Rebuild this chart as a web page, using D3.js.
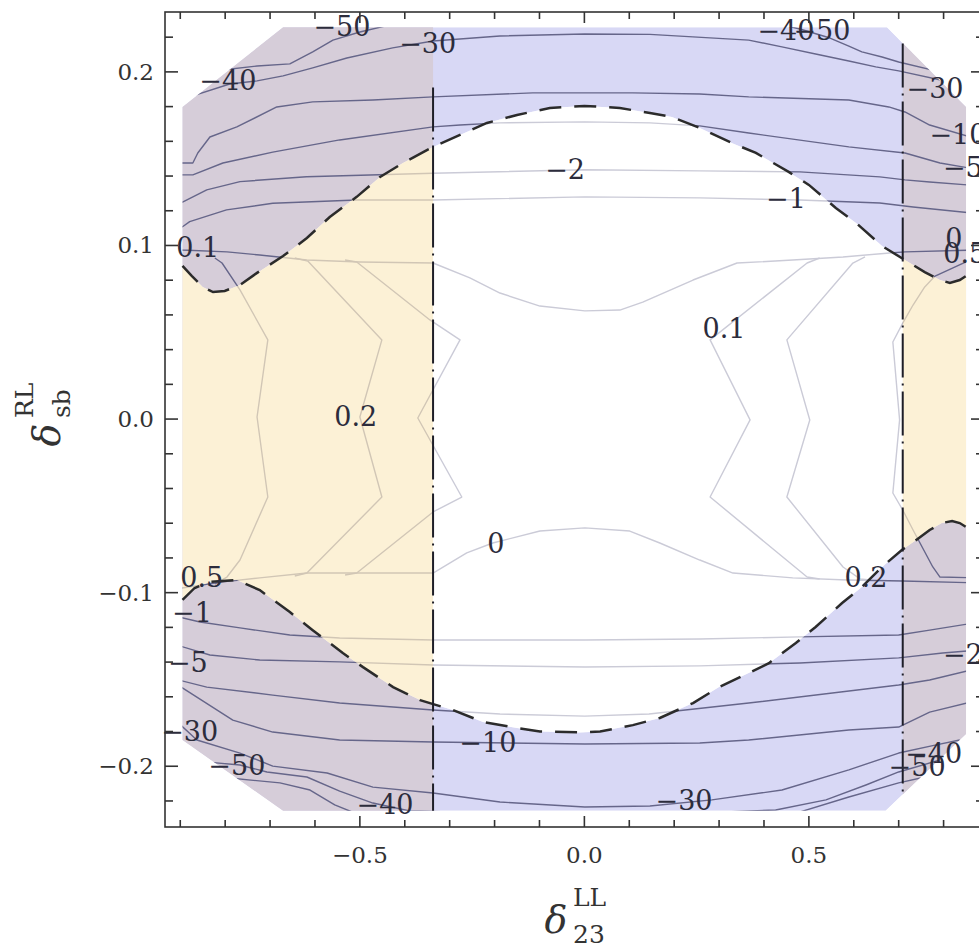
<!DOCTYPE html>
<html><head><meta charset="utf-8">
<script src="https://cdn.jsdelivr.net/npm/d3@7"></script>
<style>html,body{margin:0;padding:0;background:#fff;overflow:hidden}</style>
</head><body>
<svg id="c" width="979" height="952"></svg>
<script>
// ---------- data ----------
const xDomain = [-0.934, 0.89];
const yDomain = [-0.235, 0.2345];
const xMajorTicks = [-0.5, 0, 0.5];
const xTickLabels = ["\u22120.5", "0.0", "0.5"];
const xMinorTicks = [-0.9,-0.8,-0.7,-0.6,-0.5,-0.4,-0.3,-0.2,-0.1,0,0.1,0.2,0.3,0.4,0.5,0.6,0.7,0.8];
const yMajorTicks = [-0.2, -0.1, 0, 0.1, 0.2];
const yTickLabels = ["\u22120.2", "\u22120.1", "0.0", "0.1", "0.2"];
const yMinorTicks = [-0.22,-0.2,-0.18,-0.16,-0.14,-0.12,-0.1,-0.08,-0.06,-0.04,-0.02,0,0.02,0.04,0.06,0.08,0.1,0.12,0.14,0.16,0.18,0.2,0.22];

// region where the scan was computed
const domainOutline = [[-0.895,0.1798],[-0.671,0.2257],[0.674,0.2257],[0.850,0.1798],[0.850,-0.1814],[0.671,-0.2256],[-0.671,-0.2256],[-0.895,-0.1849]];
// dashed boundaries (upper and lower)
const boundaryTop = [[-0.895,0.0882],[-0.874,0.0824],[-0.850,0.0761],[-0.827,0.0732],[-0.801,0.0738],[-0.767,0.0772],[-0.729,0.0842],[-0.671,0.0939],[-0.618,0.1043],[-0.567,0.1164],[-0.507,0.1280],[-0.455,0.1395],[-0.404,0.1475],[-0.337,0.1568],[-0.277,0.1637],[-0.217,0.1706],[-0.150,0.1752],[-0.077,0.1792],[0.000,0.1804],[0.079,0.1792],[0.146,0.1763],[0.195,0.1740],[0.257,0.1677],[0.328,0.1591],[0.382,0.1533],[0.455,0.1424],[0.500,0.1349],[0.560,0.1216],[0.605,0.1130],[0.663,0.0997],[0.714,0.0916],[0.758,0.0847],[0.792,0.0801],[0.814,0.0784],[0.836,0.0801],[0.850,0.0824]];
const boundaryBottom = [[-0.895,-0.1042],[-0.868,-0.0973],[-0.834,-0.0938],[-0.774,-0.0927],[-0.723,-0.0985],[-0.656,-0.1112],[-0.605,-0.1216],[-0.538,-0.1348],[-0.493,-0.1429],[-0.426,-0.1544],[-0.366,-0.1619],[-0.293,-0.1676],[-0.226,-0.1745],[-0.150,-0.1780],[-0.099,-0.1800],[-0.010,-0.1805],[0.035,-0.1800],[0.108,-0.1763],[0.168,-0.1722],[0.242,-0.1636],[0.300,-0.1544],[0.366,-0.1463],[0.411,-0.1406],[0.471,-0.1290],[0.515,-0.1198],[0.574,-0.1060],[0.618,-0.0967],[0.663,-0.0852],[0.707,-0.0754],[0.736,-0.0703],[0.769,-0.0639],[0.796,-0.0599],[0.819,-0.0587],[0.836,-0.0599],[0.850,-0.0622]];
// dash-dotted vertical bounds
const verticalBounds = [[-0.337, 0.191, -0.2256], [0.709, 0.2164, -0.2163]];
// bands outside the vertical bounds
const yellowBands = [[-1.0, -0.337], [0.709, 1.0]];

// contour lines
const lineTopM50L = [[-0.807,0.2011],[-0.729,0.2034],[-0.656,0.2046],[-0.605,0.2115],[-0.560,0.2183],[-0.500,0.2230],[-0.444,0.2264],[-0.411,0.2287]];
const lineTopM50R = [[0.413,0.2287],[0.480,0.2247],[0.547,0.2195],[0.589,0.2149],[0.618,0.2115],[0.663,0.2086],[0.700,0.2057],[0.792,0.2000]];
const lineTopM40 = [[-0.879,0.1856],[-0.790,0.1930],[-0.729,0.1948],[-0.671,0.1977],[-0.605,0.2023],[-0.529,0.2080],[-0.427,0.2138],[-0.337,0.2178],[-0.188,0.2207],[0.001,0.2218],[0.146,0.2216],[0.366,0.2183],[0.440,0.2144],[0.515,0.2103],[0.589,0.2063],[0.649,0.2029],[0.700,0.2006],[0.814,0.1942]];
const lineTopA = [[-0.923,0.1475],[-0.872,0.1475],[-0.861,0.1533],[-0.834,0.1625],[-0.774,0.1683],[-0.685,0.1798],[-0.605,0.1827],[-0.471,0.1838],[-0.337,0.1856],[-0.115,0.1879],[0.108,0.1879],[0.257,0.1873],[0.366,0.1856],[0.589,0.1838],[0.678,0.1798],[0.714,0.1769],[0.769,0.1694],[0.881,0.1608]];
const lineTopB = [[-0.923,0.1407],[-0.872,0.1407],[-0.805,0.1475],[-0.694,0.1538],[-0.545,0.1608],[-0.337,0.1683],[-0.277,0.1694],[-0.188,0.1706],[0.001,0.1712],[0.146,0.1706],[0.257,0.1689],[0.366,0.1648],[0.589,0.1568],[0.714,0.1533],[0.792,0.1475],[0.881,0.1436]];
const lineTopC = [[-0.923,0.1250],[-0.895,0.1250],[-0.841,0.1320],[-0.767,0.1368],[-0.619,0.1396],[-0.337,0.1416],[0.001,0.1436],[0.257,0.1430],[0.480,0.1424],[0.658,0.1395],[0.714,0.1378],[0.769,0.1366],[0.881,0.1343]];
const lineTopD = [[-0.923,0.1108],[-0.895,0.1108],[-0.879,0.1137],[-0.797,0.1205],[-0.694,0.1243],[-0.507,0.1262],[-0.337,0.1262],[0.001,0.1280],[0.257,0.1274],[0.480,0.1262],[0.658,0.1245],[0.732,0.1222],[0.881,0.1182]];
const lineInnerTop = [[-0.923,0.0980],[-0.896,0.0974],[-0.796,0.0963],[-0.723,0.0945],[-0.618,0.0916],[-0.500,0.0905],[-0.337,0.0899],[-0.255,0.0813],[-0.188,0.0726],[-0.099,0.0651],[0.001,0.0623],[0.079,0.0628],[0.130,0.0674],[0.242,0.0801],[0.340,0.0899],[0.464,0.0916],[0.576,0.0934],[0.680,0.0957],[0.714,0.0963],[0.881,0.0974]];
const lineInnerBottom = [[-0.923,-0.0979],[-0.896,-0.0973],[-0.805,-0.0938],[-0.723,-0.0915],[-0.618,-0.0887],[-0.500,-0.0887],[-0.337,-0.0887],[-0.262,-0.0771],[-0.204,-0.0714],[-0.099,-0.0645],[0.001,-0.0627],[0.101,-0.0645],[0.168,-0.0714],[0.257,-0.0812],[0.331,-0.0887],[0.464,-0.0915],[0.585,-0.0927],[0.709,-0.0933],[0.881,-0.0944]];
const zigL1 = [[-0.823,0.0928],[-0.807,0.0899],[-0.767,0.0744],[-0.705,0.0456],[-0.729,0.0012],[-0.705,-0.0449],[-0.767,-0.0812],[-0.796,-0.0910],[-0.823,-0.0950]];
const zigL2 = [[-0.645,0.0928],[-0.616,0.0910],[-0.451,0.0456],[-0.500,0.0012],[-0.451,-0.0449],[-0.618,-0.0887],[-0.645,-0.0904]];
const zigL3 = [[-0.533,0.0916],[-0.507,0.0905],[-0.344,0.0571],[-0.277,0.0456],[-0.371,0.0006],[-0.273,-0.0449],[-0.337,-0.0535],[-0.507,-0.0887],[-0.533,-0.0898]];
const zigR1 = [[0.524,0.0928],[0.496,0.0899],[0.280,0.0456],[0.369,-0.0005],[0.280,-0.0449],[0.496,-0.0910],[0.524,-0.0921]];
const zigR2 = [[0.625,0.0934],[0.598,0.0899],[0.451,0.0456],[0.502,-0.0005],[0.451,-0.0449],[0.576,-0.0852],[0.614,-0.0921],[0.636,-0.0927]];
const zigR3 = [[0.881,0.0928],[0.850,0.0905],[0.781,0.0824],[0.758,0.0761],[0.732,0.0657],[0.709,0.0553],[0.687,0.0444],[0.702,-0.0005],[0.687,-0.0426],[0.709,-0.0524],[0.732,-0.0639],[0.776,-0.0852],[0.792,-0.0910],[0.881,-0.0915]];
const lineBotD = [[-0.923,-0.1129],[-0.856,-0.1169],[-0.767,-0.1203],[-0.656,-0.1244],[-0.545,-0.1261],[-0.337,-0.1273],[0.001,-0.1273],[0.257,-0.1267],[0.480,-0.1255],[0.700,-0.1244],[0.769,-0.1216],[0.881,-0.1169]];
const lineBotC = [[-0.923,-0.1290],[-0.834,-0.1359],[-0.723,-0.1388],[-0.545,-0.1399],[-0.337,-0.1417],[0.001,-0.1428],[0.257,-0.1422],[0.480,-0.1405],[0.700,-0.1376],[0.798,-0.1348],[0.881,-0.1330]];
const lineBotB = [[-0.923,-0.1491],[-0.841,-0.1544],[-0.694,-0.1590],[-0.545,-0.1636],[-0.337,-0.1676],[-0.188,-0.1699],[0.001,-0.1711],[0.144,-0.1699],[0.366,-0.1636],[0.700,-0.1532],[0.769,-0.1503],[0.881,-0.1434]];
const lineBotA = [[-0.923,-0.1503],[-0.783,-0.1734],[-0.694,-0.1803],[-0.545,-0.1849],[-0.337,-0.1860],[0.001,-0.1872],[0.257,-0.1866],[0.366,-0.1849],[0.589,-0.1791],[0.700,-0.1774],[0.769,-0.1688],[0.881,-0.1618]];
const lineBotM30 = [[-0.923,-0.1705],[-0.863,-0.1849],[-0.767,-0.1924],[-0.694,-0.1999],[-0.573,-0.2039],[-0.471,-0.2120],[-0.337,-0.2154],[-0.188,-0.2206],[0.001,-0.2235],[0.146,-0.2229],[0.284,-0.2194],[0.440,-0.2137],[0.589,-0.2021],[0.700,-0.1924],[0.781,-0.1878],[0.836,-0.1849]];
const lineBotM40 = [[-0.845,-0.1975],[-0.767,-0.1993],[-0.707,-0.2033],[-0.618,-0.2062],[-0.545,-0.2143],[-0.471,-0.2212],[-0.389,-0.2258],[-0.188,-0.2269],[0.257,-0.2269],[0.426,-0.2252],[0.538,-0.2194],[0.627,-0.2108],[0.700,-0.2033],[0.792,-0.1964]];
const lineBotM50 = [[-0.790,-0.2068],[-0.678,-0.2096],[-0.611,-0.2137],[-0.556,-0.2223],[-0.500,-0.2281],[0.458,-0.2281],[0.589,-0.2177],[0.700,-0.2096],[0.769,-0.2056]];
const contourLines = [lineTopM50L, lineTopM50R, lineTopM40, lineTopA, lineTopB, lineTopC, lineTopD,
  lineInnerTop, lineInnerBottom, zigL1, zigL2, zigL3, zigR1, zigR2, zigR3,
  lineBotD, lineBotC, lineBotB, lineBotA, lineBotM30, lineBotM40, lineBotM50];

// contour labels: text, x, y
const labelTexts = ["\u221250","\u221240","\u221230","\u221240","\u221250","\u221230","\u221210","\u22125","0","0.5",
  "\u22122","\u22121","0.1","0.1","0.2","0","0.2","0.5","\u22121","\u22125","\u221230","\u221250","\u221240","\u221210","\u221230","\u221250","\u221240","\u22122"];
const labelX = [-0.540,-0.794,-0.349,0.449,0.529,0.781,0.832,0.843,0.823,0.847,
  -0.043,0.449,-0.861,0.311,-0.509,-0.197,0.627,-0.852,-0.874,-0.883,-0.879,-0.774,-0.444,-0.215,0.222,0.741,0.778,0.843];
const labelY = [0.2259,0.1953,0.2166,0.2241,0.2241,0.1902,0.1637,0.1452,0.1043,0.0951,
  0.1436,0.1268,0.0986,0.0519,0.0012,-0.0714,-0.0910,-0.0910,-0.1117,-0.1405,-0.1797,-0.1993,-0.2223,-0.1866,-0.2200,-0.2004,-0.1929,-0.1359];

// ---------- drawing ----------
const colBlue = "#d8d8f5", colOverlap = "#d6cdd9", colYellowTint = "#fbebc6", colLine = "#66668a";
const x = d3.scaleLinear().domain(xDomain).range([165, 984]);
const y = d3.scaleLinear().domain(yDomain).range([827, 12]);
const svg = d3.select("#c");
const defs = svg.append("defs");
const line = d3.line().x(d => x(d[0])).y(d => y(d[1]));

const nT = boundaryTop.length, nB = boundaryBottom.length;
const innerPoly = [[-1.0, boundaryTop[0][1]], ...boundaryTop, [1.0, boundaryTop[nT-1][1]],
  [1.0, boundaryBottom[nB-1][1]], ...boundaryBottom.slice().reverse(), [-1.0, boundaryBottom[0][1]]];

defs.append("clipPath").attr("id", "dom").append("path").attr("d", line(domainOutline) + "Z");
defs.append("clipPath").attr("id", "inner").append("path").attr("d", line(innerPoly) + "Z");

const g = svg.append("g").attr("clip-path", "url(#dom)");
g.append("path").attr("d", line(domainOutline) + "Z").attr("fill", colBlue);
yellowBands.forEach(b => {
  g.append("rect").attr("x", x(b[0])).attr("width", x(b[1]) - x(b[0]))
    .attr("y", y(yDomain[1])).attr("height", y(yDomain[0]) - y(yDomain[1])).attr("fill", colOverlap);
});
g.append("path").attr("d", line(innerPoly) + "Z").attr("fill", "#fff");
contourLines.forEach(l => {
  g.append("path").attr("d", line(l)).attr("fill", "none").attr("stroke", colLine)
    .attr("stroke-width", 1.4).attr("stroke-linejoin", "round");
});
const gi = g.append("g").attr("clip-path", "url(#inner)");
gi.append("rect").attr("x", x(yellowBands[0][1])).attr("width", x(yellowBands[1][0]) - x(yellowBands[0][1]))
  .attr("y", y(yDomain[1])).attr("height", y(yDomain[0]) - y(yDomain[1])).attr("fill", "#fff").attr("opacity", 0.66);
yellowBands.forEach(b => {
  gi.append("rect").attr("x", x(b[0])).attr("width", x(b[1]) - x(b[0]))
    .attr("y", y(yDomain[1])).attr("height", y(yDomain[0]) - y(yDomain[1])).attr("fill", colYellowTint).attr("opacity", 0.72);
});

// dashed boundaries
[boundaryTop, boundaryBottom].forEach(b => {
  svg.append("path").attr("d", line(b)).attr("fill", "none").attr("stroke", "#2b2b2b")
    .attr("stroke-width", 2.5).attr("stroke-dasharray", "22,13");
});
// dash-dot verticals
verticalBounds.forEach(v => {
  svg.append("line").attr("x1", x(v[0])).attr("x2", x(v[0])).attr("y1", y(v[1])).attr("y2", y(v[2]))
    .attr("stroke", "#1e1e28").attr("stroke-width", 2).attr("stroke-dasharray", "44,6,2,6");
});

// labels
labelTexts.forEach((t, i) => {
  svg.append("text").attr("x", x(labelX[i])).attr("y", y(labelY[i]))
    .attr("text-anchor", "middle").attr("dominant-baseline", "central")
    .attr("font-family", "DejaVu Serif").attr("font-size", 27).attr("fill", "#2c2c3c").text(t);
});

// frame and ticks
const fr = svg.append("g").attr("stroke", "#333").attr("stroke-width", 1.6);
fr.append("rect").attr("x", x(xDomain[0])).attr("y", y(yDomain[1]))
  .attr("width", x(xDomain[1]) - x(xDomain[0])).attr("height", y(yDomain[0]) - y(yDomain[1])).attr("fill", "none");
const isMajor = (v, arr) => arr.some(m => Math.abs(m - v) < 1e-9);
xMinorTicks.forEach(v => {
  const L = isMajor(v, xMajorTicks) ? 11 : 7;
  fr.append("line").attr("x1", x(v)).attr("x2", x(v)).attr("y1", y(yDomain[0])).attr("y2", y(yDomain[0]) - L);
  fr.append("line").attr("x1", x(v)).attr("x2", x(v)).attr("y1", y(yDomain[1])).attr("y2", y(yDomain[1]) + L);
});
yMinorTicks.forEach(v => {
  const L = isMajor(v, yMajorTicks) ? 13 : 8;
  fr.append("line").attr("y1", y(v)).attr("y2", y(v)).attr("x1", x(xDomain[0])).attr("x2", x(xDomain[0]) + L);
  fr.append("line").attr("y1", y(v)).attr("y2", y(v)).attr("x1", x(xDomain[1])).attr("x2", x(xDomain[1]) - L);
});
xMajorTicks.forEach((v, i) => {
  svg.append("text").attr("x", x(v)).attr("y", y(yDomain[0]) + 36).attr("text-anchor", "middle")
    .attr("font-family", "DejaVu Serif").attr("font-size", 23).attr("fill", "#333").text(xTickLabels[i]);
});
yMajorTicks.forEach((v, i) => {
  svg.append("text").attr("x", x(xDomain[0]) - 11).attr("y", y(v)).attr("text-anchor", "end")
    .attr("dominant-baseline", "central")
    .attr("font-family", "DejaVu Serif").attr("font-size", 23).attr("fill", "#333").text(yTickLabels[i]);
});

// axis titles
function axisTitle(gSel, sup, sub) {
  gSel.append("text").attr("x", 0).attr("y", 0).attr("text-anchor", "middle")
    .attr("font-family", "DejaVu Serif").attr("font-style", "italic").attr("font-size", 38).attr("fill", "#333").text("\u03b4");
  gSel.append("text").attr("x", 17).attr("y", -27).attr("font-family", "DejaVu Serif")
    .attr("font-size", 25).attr("fill", "#333").text(sup);
  gSel.append("text").attr("x", 17).attr("y", 10).attr("font-family", "DejaVu Serif")
    .attr("font-size", 25).attr("fill", "#333").text(sub);
}
axisTitle(svg.append("g").attr("transform", "translate(556,933)"), "LL", "23");
axisTitle(svg.append("g").attr("transform", "translate(60,435) rotate(-90)"), "RL", "sb");
</script>
</body></html>
